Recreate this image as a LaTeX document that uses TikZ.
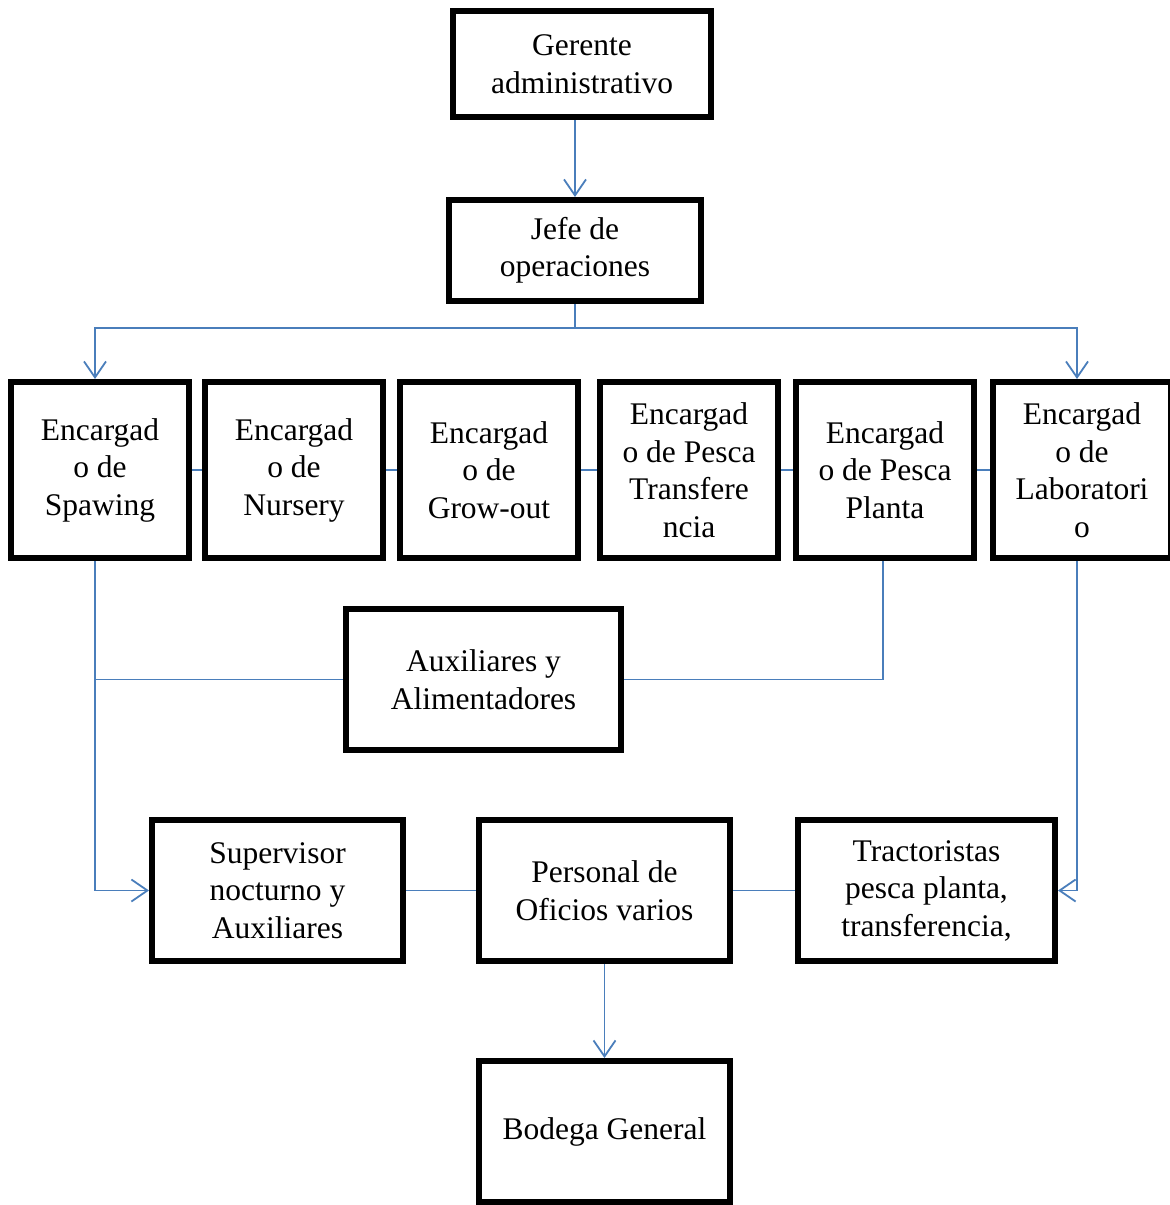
\documentclass[tikz,border=0pt]{standalone}
\usepackage{fontspec}
\setmainfont{Liberation Serif}
\usepackage{xcolor}
\usepackage{tikz}
\usetikzlibrary{positioning,arrows.meta,calc}
\definecolor{OrgBlue}{HTML}{4A7EBB}
\tikzset{
  orgbox/.style={
    rectangle,
    draw=black,
    line width=6pt,
    fill=white,
    align=center,
    inner sep=0pt,
    font=\fontsize{31.5}{37.5}\selectfont
  },
  orgunit/.style={orgbox,minimum width=178pt,minimum height=176pt},
  orgstaff/.style={orgbox,minimum width=251pt,minimum height=141pt},
  orgline/.style={line width=1.8pt,draw=OrgBlue},
  orgarrow/.style={orgline,-{Straight Barb[length=16pt,width=22pt,line width=1.8pt]}},
}
\begin{document}
\begin{tikzpicture}[x=1pt,y=-1pt,node distance=16pt]
  \useasboundingbox (0,0) rectangle (1170,1205);

  % top of the chart
  \node[orgbox,minimum width=258pt,minimum height=106pt] (gerente) at (582,64)
    {Gerente\\administrativo};
  \node[orgbox,minimum width=252pt,minimum height=101pt] (jefe) at (575,250.5)
    {Jefe de\\operaciones};

  % row of encargados
  \node[orgunit] (spawing) at (100,470) {Encargad\\o de\\Spawing};
  \node[orgunit,right=10pt of spawing] (nursery) {Encargad\\o de\\Nursery};
  \node[orgunit,right=11pt of nursery] (growout) {Encargad\\o de\\Grow-out};
  \node[orgunit,right=16pt of growout] (transf) {Encargad\\o de Pesca\\Transfere\\ncia};
  \node[orgunit,right=12pt of transf] (planta) {Encargad\\o de Pesca\\Planta};
  \node[orgunit,right=13pt of planta] (lab) {Encargad\\o de\\Laboratori\\o};

  % staff
  \node[orgstaff,minimum width=275pt] (aux) at (483.5,679.5)
    {Auxiliares y\\Alimentadores};
  \node[orgstaff] (supervisor) at (277.5,890.5)
    {Supervisor\\nocturno y\\Auxiliares};
  \node[orgstaff] (personal) at (604.5,890.5)
    {Personal de\\Oficios varios};
  \node[orgstaff,minimum width=257pt] (tract) at (926.5,890.5)
    {\fontsize{31.5}{36}\selectfont Tractoristas\\pesca planta,\\transferencia,};
  \node[orgstaff] (bodega) at (604.5,1131.5) {Bodega General};

  \draw[orgarrow] (gerente.south -| jefe) -- (jefe.north);
  \draw[orgline] (jefe.south) -- ++(0,24) coordinate (bus);
  \draw[orgarrow] (bus) -| ([xshift=-5pt]spawing.north);
  \draw[orgarrow] (bus) -| ([xshift=-5pt]lab.north);

  \draw[orgline] (spawing) -- (nursery);
  \draw[orgline] (nursery) -- (growout);
  \draw[orgline] (growout) -- (transf);
  \draw[orgline] (transf) -- (planta);
  \draw[orgline] (planta) -- (lab);

  \draw[orgarrow] ([xshift=-5pt]spawing.south) |- (supervisor.west);
  \draw[orgline] ([xshift=-5pt]spawing.south |- aux.west) -- (aux.west);
  \draw[orgline] (aux.east) -| ([xshift=-2pt]planta.south);
  \draw[orgarrow] ([xshift=-5pt]lab.south) |- (tract.east);

  \draw[orgline] (supervisor) -- (personal);
  \draw[orgline] (personal) -- (tract);
  \draw[orgarrow] (personal.south) -- (bodega.north);
\end{tikzpicture}
\end{document}
